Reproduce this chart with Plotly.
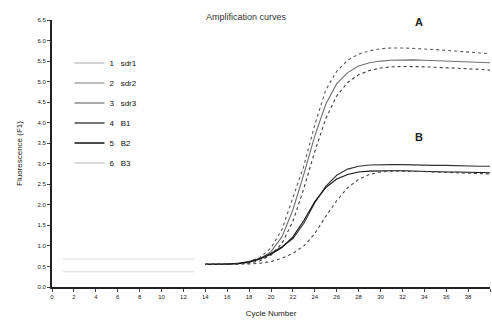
import plotly.graph_objects as go

# ---- data ----
cycles = list(range(14, 41))
early_cycles = list(range(1, 14))
early_hi = [0.68] * 13
early_lo = [0.37] * 13

names = ["1\u00a0\u00a0\u00a0sdr1", "2\u00a0\u00a0\u00a0sdr2", "3\u00a0\u00a0\u00a0sdr3",
         "4\u00a0\u00a0\u00a0B1", "5\u00a0\u00a0\u00a0B2", "6\u00a0\u00a0\u00a0B3"]

sdr1 = [0.55, 0.55, 0.56, 0.58, 0.62, 0.72, 0.95, 1.40, 2.15, 2.95, 3.95, 4.80, 5.25, 5.52,
        5.67, 5.75, 5.80, 5.82, 5.82, 5.81, 5.80, 5.78, 5.76, 5.74, 5.72, 5.70, 5.68]
sdr2 = [0.55, 0.55, 0.55, 0.57, 0.60, 0.68, 0.86, 1.22, 1.88, 2.75, 3.68, 4.45, 4.95, 5.22,
        5.38, 5.46, 5.50, 5.52, 5.53, 5.53, 5.52, 5.51, 5.50, 5.49, 5.48, 5.47, 5.46]
sdr3 = [0.55, 0.55, 0.55, 0.56, 0.58, 0.64, 0.78, 1.06, 1.60, 2.40, 3.30, 4.10, 4.65, 4.98,
        5.17, 5.27, 5.33, 5.36, 5.37, 5.37, 5.36, 5.35, 5.34, 5.32, 5.31, 5.30, 5.28]
b1 = [0.55, 0.55, 0.56, 0.58, 0.62, 0.70, 0.82, 0.98, 1.18, 1.55, 2.05, 2.45, 2.72, 2.87,
      2.94, 2.97, 2.98, 2.98, 2.98, 2.97, 2.97, 2.96, 2.96, 2.95, 2.95, 2.94, 2.94]
b2 = [0.55, 0.55, 0.56, 0.57, 0.61, 0.68, 0.80, 0.96, 1.22, 1.62, 2.08, 2.42, 2.63, 2.74,
      2.80, 2.82, 2.83, 2.83, 2.83, 2.82, 2.82, 2.81, 2.80, 2.80, 2.79, 2.79, 2.78]
b3 = [0.55, 0.55, 0.55, 0.55, 0.56, 0.58, 0.62, 0.70, 0.82, 1.00, 1.30, 1.72, 2.10, 2.42,
      2.62, 2.74, 2.80, 2.82, 2.82, 2.82, 2.81, 2.80, 2.79, 2.78, 2.77, 2.76, 2.75]
series = [sdr1, sdr2, sdr3, b1, b2, b3]
legend_colors = ["#c4c4c4", "#a6a6a6", "#8c8c8c", "#4a4a4a", "#111111", "#cccccc"]
curve_colors = ["#5a5a5a", "#707070", "#3c3c3c", "#333333", "#111111", "#4a4a4a"]

x_ticks = list(range(0, 41, 2))
y_ticks = [i * 0.5 for i in range(0, 14)]

FONT = "Liberation Sans, Arial, sans-serif"

fig = go.Figure()
for ev in (early_hi, early_lo):
    fig.add_trace(go.Scatter(x=early_cycles, y=ev, mode="lines",
                             line=dict(color="#dcdcdc", width=1), showlegend=False,
                             hoverinfo="skip"))
for i, vals in enumerate(series):
    fig.add_trace(go.Scatter(x=cycles, y=vals, mode="lines", showlegend=False,
                             line=dict(color=curve_colors[i], width=1.1,
                                       dash="dot" if i in (0, 2, 5) else "solid")))
# legend entries (solid swatches as in the reference)
for i, nm in enumerate(names):
    fig.add_trace(go.Scatter(x=[None], y=[None], mode="lines", name=nm,
                             legendgroup=f"g{i}",
                             line=dict(color=legend_colors[i], width=1.6)))

fig.update_layout(
    width=492, height=322,
    margin=dict(l=52, r=2, t=20, b=35),
    paper_bgcolor="white", plot_bgcolor="white",
    font=dict(family=FONT, size=7, color="#222"),
    title=dict(text="Amplification curves", x=0.5, xanchor="center", y=0.948,
               yanchor="middle", font=dict(size=9, family=FONT, color="#333")),
    showlegend=True,
    legend=dict(x=0.04, y=0.893, xanchor="left", yanchor="top", bgcolor="rgba(0,0,0,0)",
                font=dict(size=8, family=FONT, color="#111"), tracegroupgap=1,
                itemwidth=30),
    xaxis=dict(range=[0, 40], tickvals=x_ticks, ticktext=[str(v) for v in x_ticks],
               showgrid=False, zeroline=False, showline=True, linecolor="#222", linewidth=2,
               ticks="outside", ticklen=3, tickcolor="#444", tickfont=dict(size=6),
               title=dict(text="Cycle Number", font=dict(size=8, color="#222"), standoff=11)),
    yaxis=dict(range=[0, 6.5], tickvals=y_ticks, ticktext=[f"{v:.1f}" for v in y_ticks],
               showgrid=False, zeroline=False, showline=True, linecolor="#222", linewidth=2,
               ticks="outside", ticklen=3, tickcolor="#444", tickfont=dict(size=6),
               title=dict(text="Fluorescence (F1)", font=dict(size=8), standoff=14)),
    annotations=[
        dict(text="<b>A</b>", x=33.5, y=6.45, xref="x", yref="y", showarrow=False,
             font=dict(size=11, family=FONT, color="#222")),
        dict(text="<b>B</b>", x=33.5, y=3.65, xref="x", yref="y", showarrow=False,
             font=dict(size=11, family=FONT, color="#222")),
    ],
)
fig.write_html("out.html")
